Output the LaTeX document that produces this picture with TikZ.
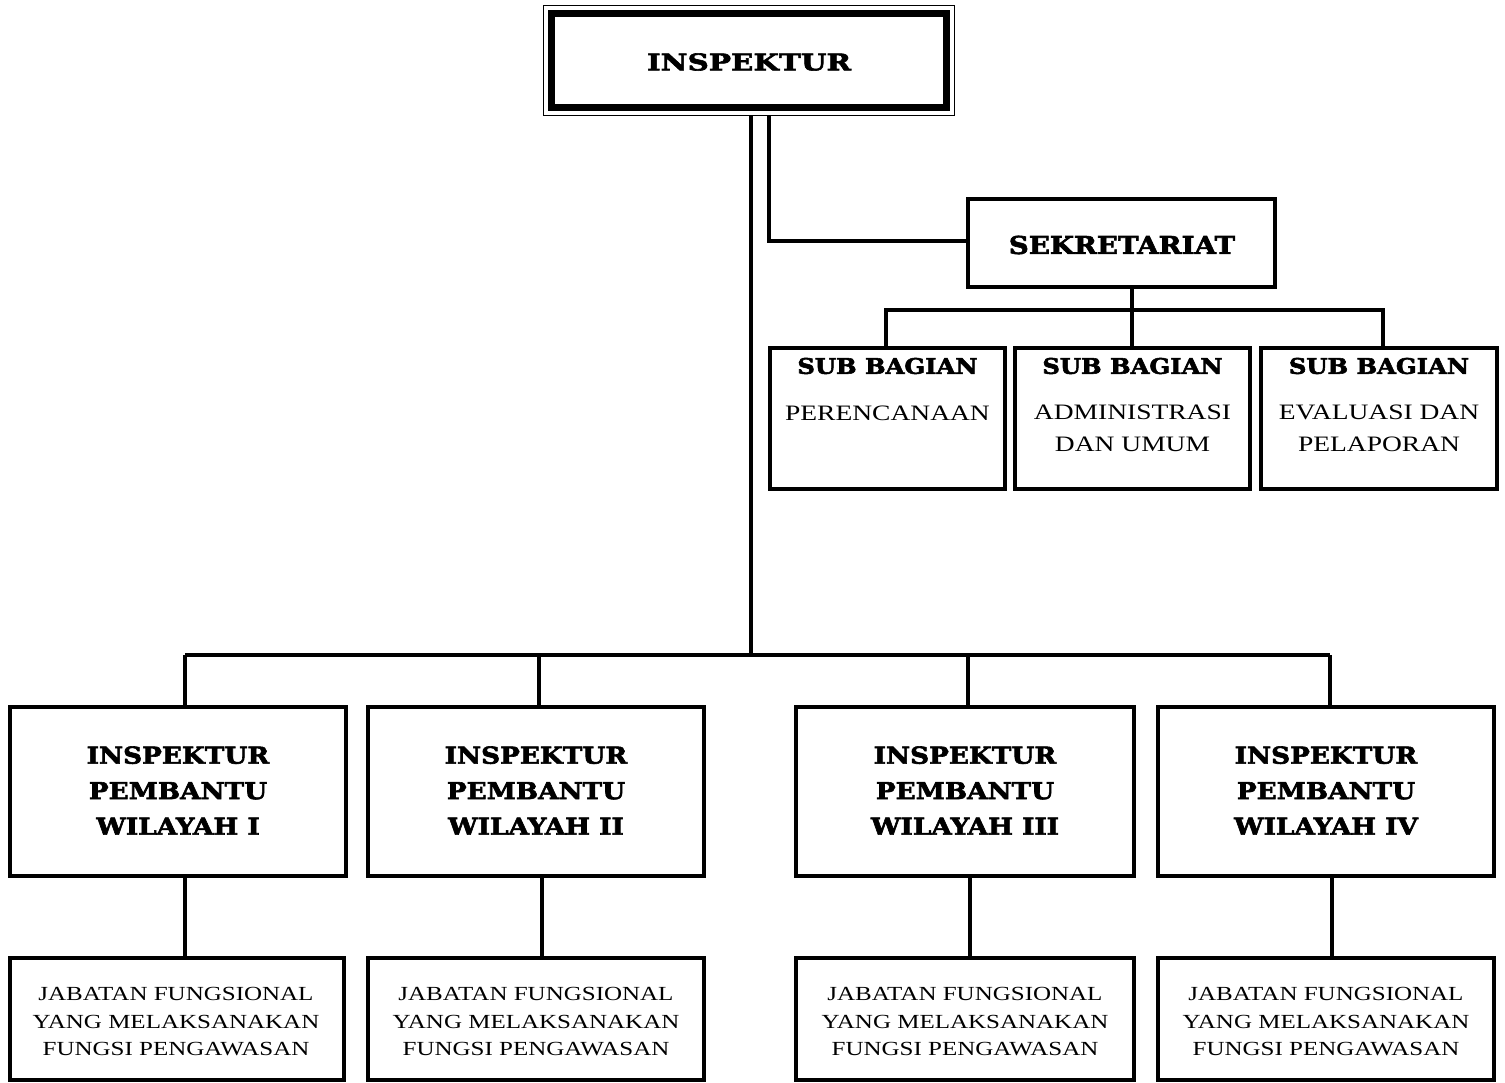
\documentclass[tikz,border=0pt]{standalone}
\usepackage{fontspec}
\setmainfont{Liberation Serif}[FakeStretch=1.25]
\newfontfamily\bkA{DejaVu Serif}[FakeStretch=1.13, BoldFeatures={FakeBold=2.6}]
\newfontfamily\bkB{DejaVu Serif}[FakeStretch=1.28, BoldFeatures={FakeBold=2.6}]
\tikzset{
  bx/.style={draw, line width=4pt, outer sep=0pt, inner sep=0pt},
  ln/.style={line width=3.5pt},
  topfont/.style={font=\bkB\bfseries\fontsize{23}{28}\selectfont},
  sekfont/.style={font=\bkA\bfseries\fontsize{24.5}{30}\selectfont},
  subhead/.style={font=\bkA\bfseries\fontsize{21.5}{28}\selectfont},
  subtext/.style={align=center, inner sep=0pt, font=\fontsize{22}{32}\selectfont},
  wilfont/.style={align=center, inner sep=0pt, font=\bkA\bfseries\fontsize{23.3}{35.5}\selectfont},
  jabfont/.style={align=center, inner sep=0pt, font=\fontsize{20}{27.5}\selectfont},
}
\begin{document}
\begin{tikzpicture}[x=1pt,y=-1pt]
\useasboundingbox[fill=white] (0,0) rectangle (1505,1082);
% top box
\node[draw, line width=1pt, outer sep=0pt, inner sep=0pt, minimum width=411pt, minimum height=110pt] (insp) at (748.5,60) {};
\node[draw, line width=7pt, outer sep=0pt, inner sep=0pt, minimum width=395pt, minimum height=94pt] (inspin) at (748.5,60) {};
\node[topfont, inner sep=0pt] (insptxt) at (749,62) {INSPEKTUR};
% sekretariat
\node[bx, minimum width=307pt, minimum height=88pt] (sek) at (1121.5,243) {};
\node[sekfont, inner sep=0pt] (sektxt) at (1122,245) {SEKRETARIAT};
% sub bagian boxes
\node[bx, minimum width=235pt, minimum height=141pt] (sub1) at (887.5,418.5) {};
\node[bx, minimum width=235pt, minimum height=141pt] (sub2) at (1132.5,418.5) {};
\node[bx, minimum width=236pt, minimum height=141pt] (sub3) at (1379,418.5) {};
\node[subhead, inner sep=0pt] (s1h) at (887.5,366) {SUB BAGIAN};
\node[subhead, inner sep=0pt] (s2h) at (1132.5,366) {SUB BAGIAN};
\node[subhead, inner sep=0pt] (s3h) at (1379,366) {SUB BAGIAN};
\node[subtext] (s1t) at (887.5,413) {PERENCANAAN};
\node[subtext] (s2t) at (1132.5,428.5) {ADMINISTRASI\\DAN UMUM};
\node[subtext] (s3t) at (1379,428.5) {EVALUASI DAN\\PELAPORAN};
% wilayah boxes
\node[bx, minimum width=336pt, minimum height=169pt] (w1) at (178,791.5) {};
\node[bx, minimum width=336pt, minimum height=169pt] (w2) at (536,791.5) {};
\node[bx, minimum width=338pt, minimum height=169pt] (w3) at (965,791.5) {};
\node[bx, minimum width=336pt, minimum height=169pt] (w4) at (1326,791.5) {};
\node[wilfont] (w1t) at (178,790.5) {INSPEKTUR\\PEMBANTU\\WILAYAH I};
\node[wilfont] (w2t) at (536,790.5) {INSPEKTUR\\PEMBANTU\\WILAYAH II};
\node[wilfont] (w3t) at (965,790.5) {INSPEKTUR\\PEMBANTU\\WILAYAH III};
\node[wilfont] (w4t) at (1326,790.5) {INSPEKTUR\\PEMBANTU\\WILAYAH IV};
% jabatan boxes
\node[bx, minimum width=334pt, minimum height=122pt] (j1) at (177,1019) {};
\node[bx, minimum width=336pt, minimum height=122pt] (j2) at (536,1019) {};
\node[bx, minimum width=338pt, minimum height=122pt] (j3) at (965,1019) {};
\node[bx, minimum width=336pt, minimum height=122pt] (j4) at (1326,1019) {};
\node[jabfont] (j1t) at (176,1022) {JABATAN FUNGSIONAL\\YANG MELAKSANAKAN\\FUNGSI PENGAWASAN};
\node[jabfont] (j2t) at (536,1022) {JABATAN FUNGSIONAL\\YANG MELAKSANAKAN\\FUNGSI PENGAWASAN};
\node[jabfont] (j3t) at (965,1022) {JABATAN FUNGSIONAL\\YANG MELAKSANAKAN\\FUNGSI PENGAWASAN};
\node[jabfont] (j4t) at (1326,1022) {JABATAN FUNGSIONAL\\YANG MELAKSANAKAN\\FUNGSI PENGAWASAN};
% connector coordinates
\coordinate (trunk) at (751,655);
\coordinate (sk) at (769,241);
\coordinate (sbus) at (1132,310);
\coordinate (d1) at (185,655);
\coordinate (d2) at (539,655);
\coordinate (d3) at (968,655);
\coordinate (d4) at (1330,655);
\coordinate (e1) at (185,0);
\coordinate (e2) at (542,0);
\coordinate (e3) at (970,0);
\coordinate (e4) at (1332,0);
\coordinate (s1d) at (886,0);
\coordinate (s3d) at (1383,0);
% connectors
\draw[ln] (insp.south -| trunk) -- (trunk);
\draw[ln] (insp.south -| sk) -- (sk) -- (sk -| sek.west);
\draw[ln] (sek.south -| sbus) -- (sbus);
\draw[ln] (sub1.north -| s1d) |- (sbus) -| (sub3.north -| s3d);
\draw[ln] (sbus) -- (sub2.north -| sbus);
\draw[ln] (d1) -- (d4);
\draw[ln] (d1) -- (w1.north -| d1);
\draw[ln] (d2) -- (w2.north -| d2);
\draw[ln] (d3) -- (w3.north -| d3);
\draw[ln] (d4) -- (w4.north -| d4);
\draw[ln] (w1.south -| e1) -- (j1.north -| e1);
\draw[ln] (w2.south -| e2) -- (j2.north -| e2);
\draw[ln] (w3.south -| e3) -- (j3.north -| e3);
\draw[ln] (w4.south -| e4) -- (j4.north -| e4);
\end{tikzpicture}
\end{document}
